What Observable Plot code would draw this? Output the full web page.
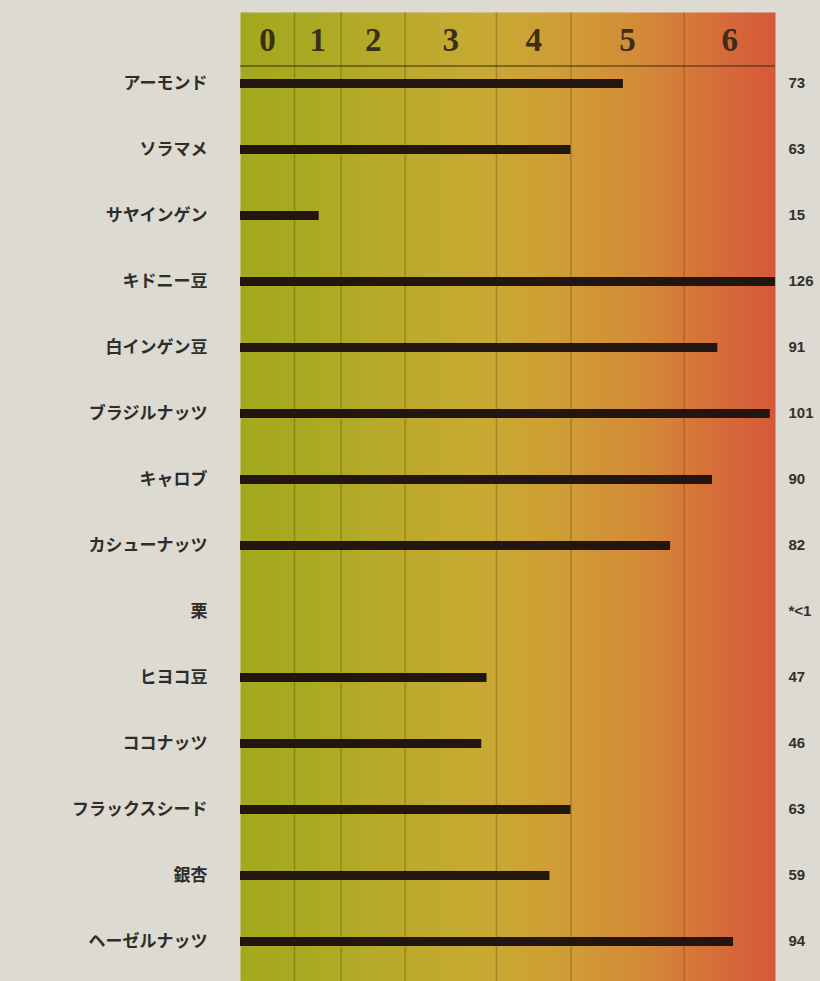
<!DOCTYPE html>
<html><head><meta charset="utf-8">
<script src="https://cdn.jsdelivr.net/npm/d3@7"></script>
<script src="https://cdn.jsdelivr.net/npm/@observablehq/plot@0.6"></script>
<style>
body{margin:0;background:#dddad1;}
#chart svg{display:block;}
</style>
</head><body><div id="chart"></div>
<script>
// ---- data ----
const foods = ["アーモンド","ソラマメ","サヤインゲン","キドニー豆","白インゲン豆","ブラジルナッツ","キャロブ","カシューナッツ","栗","ヒヨコ豆","ココナッツ","フラックスシード","銀杏","ヘーゼルナッツ"];
const values = [73, 63, 15, 126, 91, 101, 90, 82, null, 47, 46, 63, 59, 94];
const valueLabels = ["73","63","15","126","91","101","90","82","*<1","47","46","63","59","94"];
const levels = ["0","1","2","3","4","5","6"];
const levelBreaks = [0, 10.3, 19.2, 31.4, 48.8, 63, 84.6, 102];

const data = foods.map((f, i) => ({food: f, value: values[i], label: valueLabels[i]}));
const levelData = levels.map((l, i) => ({label: l, mid: (levelBreaks[i] + levelBreaks[i + 1]) / 2}));
const gridData = levelBreaks.slice(1, -1);
const xMax = levelBreaks[levelBreaks.length - 1];

const plot = Plot.plot({
  width: 820,
  height: 981,
  marginLeft: 240,
  marginRight: 45,
  marginTop: 12,
  marginBottom: 0,
  style: {background: "#dddad1", overflow: "visible"},
  x: {domain: [0, xMax], axis: null},
  y: {type: "band", domain: foods, range: [46.75, 977.75], padding: 0, axis: null},
  marks: [
    Plot.frame({fill: "url(#heatGrad)", stroke: null}),
    Plot.ruleX(gridData, {x: d => d, stroke: "#5a4a08", strokeOpacity: 0.35, strokeWidth: 1.5}),
    Plot.text(levelData, {x: "mid", text: "label", frameAnchor: "top", lineAnchor: "middle", dy: 28,
      fontSize: 33, fontWeight: "bold", fontFamily: "Liberation Serif, DejaVu Serif, serif", fill: "#3a2f18"}),
    Plot.ruleY(data.filter(d => d.value != null), {y: "food", x1: 0, x2: "value", stroke: "#231510", strokeWidth: 9, clip: true}),
    Plot.text(data, {y: "food", text: "food", frameAnchor: "left", dx: -33, textAnchor: "end",
      fontSize: 17, fontWeight: "bold", fontFamily: "Noto Sans CJK JP, sans-serif", fill: "#2e2d2a"}),
    Plot.text(data, {y: "food", text: "label", frameAnchor: "right", dx: 13, textAnchor: "start",
      fontSize: 15, fontWeight: "bold", fontFamily: "Liberation Sans, Arial, sans-serif", fill: "#33312d"})
  ]
});

// gradient definition for the background band
const svg = d3.select(plot);
const grad = svg.insert("defs", ":first-child").append("linearGradient")
  .attr("id", "heatGrad").attr("x1", "0").attr("x2", "1").attr("y1", "0").attr("y2", "0");
[
  [0, "#a3a81d"], [0.12, "#a9aa22"], [0.3, "#bba92c"], [0.45, "#c8a933"],
  [0.6, "#cf9d35"], [0.75, "#d48a37"], [0.88, "#d66f39"], [1, "#d6583a"]
].forEach(([o, c]) => grad.append("stop").attr("offset", o).attr("stop-color", c));

// header separator line under the level labels
const xs = plot.scale("x");
svg.append("line")
  .attr("x1", xs.apply(0)).attr("x2", xs.apply(xMax))
  .attr("y1", 66).attr("y2", 66)
  .attr("stroke", "#3a2f18").attr("stroke-opacity", 0.7).attr("stroke-width", 1.5);

document.getElementById("chart").appendChild(plot);
</script>
</body></html>
